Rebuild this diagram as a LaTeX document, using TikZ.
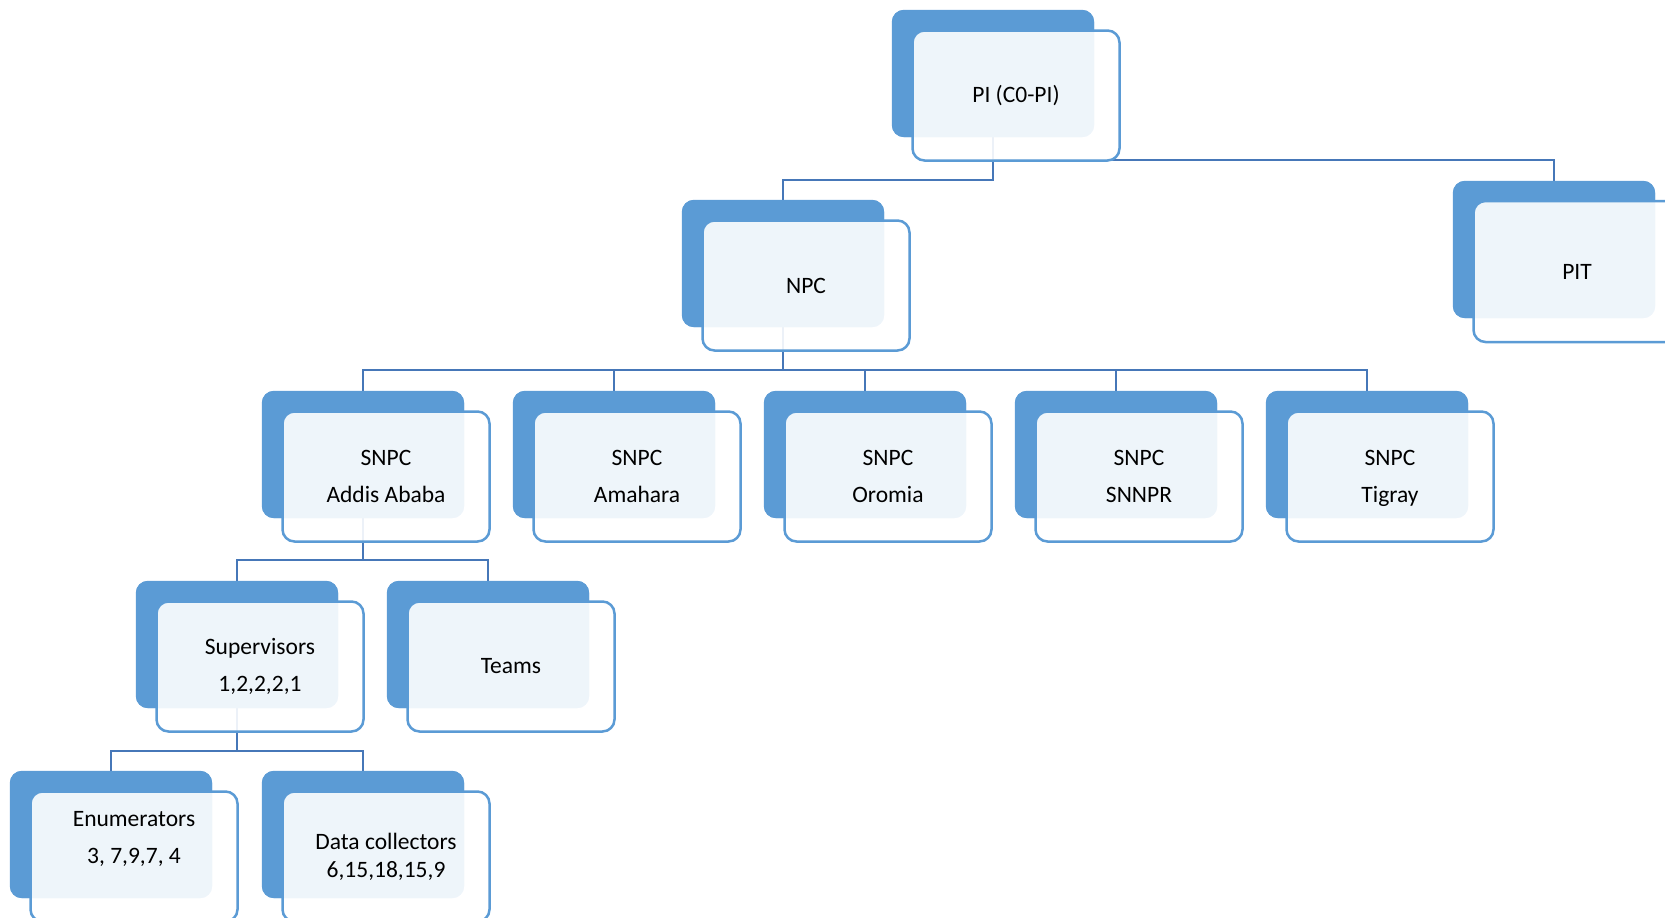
\documentclass[tikz,border=0pt]{standalone}
\usepackage{fontspec}
\setmainfont{Carlito}
\definecolor{accent}{HTML}{5B9BD5}
\definecolor{connc}{HTML}{4677B8}
\begin{document}
\begin{tikzpicture}[x=1pt,y=-1pt,
  back/.style={fill=accent, draw=none, rounded corners=12pt, minimum width=202pt, minimum height=127pt, inner sep=0pt},
  front/.style={fill=white, fill opacity=0.9, text opacity=1, draw=accent, line width=2.5pt, rounded corners=12pt, minimum width=207pt, minimum height=130pt, inner sep=0pt, align=center, font=\fontsize{23.5}{37}\selectfont},
  txt/.style={align=center, inner sep=0pt, font=\fontsize{23.5}{37}\selectfont},
  conn/.style={draw=connc, line width=2.3pt}]
\useasboundingbox (0,0) rectangle (1665,918);
% bus levels
\coordinate (busPIT) at (0,160);
\coordinate (busPI) at (0,180);
\coordinate (busNPC) at (0,370);
\coordinate (busSN) at (0,560);
\coordinate (busSUP) at (0,751);
% back boxes
\node[back] (piB) at (993,73.5) {};
\node[back, minimum height=137pt] (pitB) at (1554,249.5) {};
\node[back] (npcB) at (783,263.5) {};
\node[back] (snaB) at (363,454.5) {};
\node[back] (snbB) at (614,454.5) {};
\node[back] (sncB) at (865,454.5) {};
\node[back] (sndB) at (1116,454.5) {};
\node[back] (sneB) at (1367,454.5) {};
\node[back] (supB) at (237,644.5) {};
\node[back] (teamB) at (488,644.5) {};
\node[back] (enumB) at (111,834.5) {};
\node[back] (dataB) at (363,834.5) {};
% connectors
\draw[conn] (piB.south) -- (piB.south |- busPI) -| (npcB.north);
\draw[conn] (piB.south) -- (piB.south |- busPIT) -| (pitB.north);
\foreach \c in {snaB,snbB,sncB,sndB,sneB}
  \draw[conn] (npcB.south) -- (npcB.south |- busNPC) -| (\c.north);
\draw[conn] (snaB.south) -- (snaB.south |- busSN) -| (supB.north);
\draw[conn] (snaB.south) -- (snaB.south |- busSN) -| (teamB.north);
\draw[conn] (supB.south) -- (supB.south |- busSUP) -| (enumB.north);
\draw[conn] (supB.south) -- (supB.south |- busSUP) -| (dataB.north);
% redraw back boxes over connector ends
\foreach \b in {piB,pitB,npcB,snaB,snbB,sncB,sndB,sneB,supB,teamB,enumB,dataB}
  \fill[accent, rounded corners=12pt] (\b.south west) rectangle (\b.north east);
% front boxes
\node[front] (piF) at ([xshift=23pt,yshift=-22pt]piB.center) {PI (C0-PI)};
\node[front, minimum height=141pt] (pitF) at ([xshift=23pt,yshift=-22pt]pitB.center) {PIT};
\node[front] (npcF) at ([xshift=23pt,yshift=-22pt]npcB.center) {NPC};
\node[front] (snaF) at ([xshift=23pt,yshift=-22pt]snaB.center) {SNPC\\Addis Ababa};
\node[front] (snbF) at ([xshift=23pt,yshift=-22pt]snbB.center) {SNPC\\Amahara};
\node[front] (sncF) at ([xshift=23pt,yshift=-22pt]sncB.center) {SNPC\\Oromia};
\node[front] (sndF) at ([xshift=23pt,yshift=-22pt]sndB.center) {SNPC\\SNNPR};
\node[front] (sneF) at ([xshift=23pt,yshift=-22pt]sneB.center) {SNPC\\\raisebox{0pt}[\height][0pt]{Tigray}};
\node[front] (supF) at ([xshift=23pt,yshift=-22pt]supB.center) {Supervisors\\1,2,2,2,1};
\node[front] (teamF) at ([xshift=23pt,yshift=-22pt]teamB.center) {Teams};
\node[front] (enumF) at ([xshift=23pt,yshift=-22pt]enumB.center) {};
\node[txt] (enumT) at ([yshift=18pt]enumF.center) {Enumerators\\3, 7,9,7, 4};
\node[front, font=\fontsize{23.5}{28}\selectfont] (dataF) at ([xshift=23pt,yshift=-22pt]dataB.center) {Data collectors\\6,15,18,15,9};
\end{tikzpicture}
\end{document}
